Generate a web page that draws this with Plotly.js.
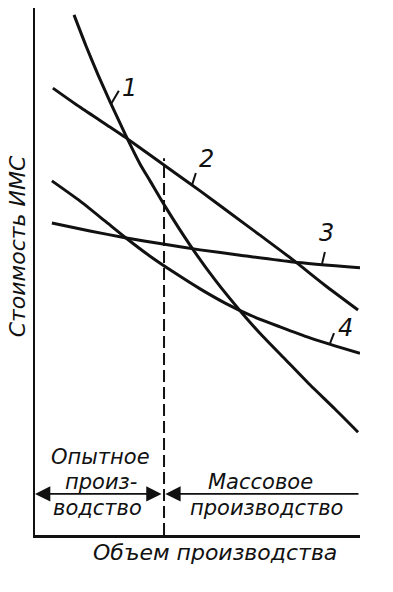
<!DOCTYPE html>
<html>
<head>
<meta charset="utf-8">
<script src="https://cdn.plot.ly/plotly-3.0.1.min.js"></script>
<style>
  html, body { margin: 0; padding: 0; background: #fff; }
  #chart { width: 393px; height: 592px; }
</style>
</head>
<body>
<div id="chart"></div>
<script>
// Schematic values in arbitrary units (x: production volume 0..100, y: IC cost 0..100)
const curve1X = [12.0, 15.7, 19.4, 23.1, 27.7, 32.3, 35.4, 40.0, 47.7, 55.4, 64.0, 69.2, 76.9, 84.6, 92.3, 99.4];
const curve1Y = [98.7, 92.8, 87.3, 82.2, 76.1, 70.4, 67.2, 62.4, 55.0, 48.4, 41.9, 38.3, 33.4, 28.5, 23.9, 19.5];

const curve2X = [5.5, 13.8, 23.1, 27.7, 35.4, 43.1, 50.8, 60.0, 69.2, 79.4, 89.2, 99.4];
const curve2Y = [84.8, 81.2, 77.4, 75.5, 72.1, 68.7, 65.3, 61.1, 56.9, 52.2, 47.4, 42.7];

const curve3X = [5.2, 16.9, 27.7, 39.4, 50.8, 63.1, 79.4, 100];
const curve3Y = [59.2, 57.7, 56.4, 55.2, 54.1, 53.1, 51.8, 50.7];

const curve4X = [5.2, 13.8, 21.5, 27.7, 35.4, 43.1, 50.8, 58.5, 66.2, 75.4, 84.6, 92.3, 100];
const curve4Y = [67.2, 63.4, 59.6, 56.5, 52.9, 49.7, 46.7, 44.0, 41.7, 39.5, 37.4, 35.9, 34.5];

// Boundary between pilot and mass production
const boundaryX = 39.7;
const boundaryTop = 71.5;
const arrowLevel = 7.8;

const curveLabels = ['1', '2', '3', '4'];
const yTitle = 'Стоимость ИМС';
const xTitle = 'Объем производства';
const pilotText = ['Опытное', 'произ-', 'водство'];
const massText = ['Массовое', 'производство'];

const FONT = 'DejaVu Sans, sans-serif';
const ink = '#111';

const lineStyle = {color: ink, width: 3, shape: 'spline', smoothing: 0.6};
const traces = [
  {x: curve1X, y: curve1Y},
  {x: curve2X, y: curve2Y},
  {x: curve3X, y: curve3Y},
  {x: curve4X, y: curve4Y}
].map(d => Object.assign(d, {type: 'scatter', mode: 'lines', line: lineStyle, hoverinfo: 'skip', showlegend: false, cliponaxis: false}));

// leader ticks and label positions
const leaders = [
  {x0: 23.4, y0: 81.8, x1: 25.8, y1: 84.3, lx: 29.2, ly: 84.8},
  {x0: 48.3, y0: 66.4, x1: 49.5, y1: 68.7, lx: 52.9, ly: 71.3},
  {x0: 88.3, y0: 51.4, x1: 89.2, y1: 53.7, lx: 89.8, ly: 57.3},
  {x0: 90.8, y0: 36.4, x1: 92.0, y1: 38.3, lx: 95.4, ly: 39.3}
];

const shapes = [
  {type: 'line', xref: 'x', yref: 'y', x0: boundaryX, x1: boundaryX, y0: 0, y1: boundaryTop,
   line: {color: ink, width: 2, dash: '12px,5px'}}
].concat(leaders.map(l => ({type: 'line', xref: 'x', yref: 'y', x0: l.x0, y0: l.y0, x1: l.x1, y1: l.y1,
   line: {color: ink, width: 2}})));

const tfont = (s) => ({family: FONT, size: s, color: ink, style: 'italic'});

const annotations = [];
curveLabels.forEach((t, i) => annotations.push({
  x: leaders[i].lx, y: leaders[i].ly, xref: 'x', yref: 'y', text: t, showarrow: false,
  font: tfont(24), xanchor: 'center', yanchor: 'middle'
}));
// pilot production text
const pilotY = [14.8, 10.1, 5.1];
const pilotX = [20.0, 20.3, 19.1];
pilotText.forEach((t, i) => annotations.push({
  x: pilotX[i], y: pilotY[i], xref: 'x', yref: 'y', text: t, showarrow: false,
  font: tfont(21), xanchor: 'center', yanchor: 'middle'
}));
const massY = [10.1, 5.1];
const massX = [69.5, 71.1];
massText.forEach((t, i) => annotations.push({
  x: massX[i], y: massY[i], xref: 'x', yref: 'y', text: t, showarrow: false,
  font: tfont(21), xanchor: 'center', yanchor: 'middle'
}));
// axis titles (paper coordinates so they may sit outside the plot area)
annotations.push({x: 0.554, y: -0.034, xref: 'paper', yref: 'paper', text: xTitle, showarrow: false,
  font: tfont(22), xanchor: 'center', yanchor: 'middle'});
annotations.push({x: -0.055, y: 0.548, xref: 'paper', yref: 'paper', text: yTitle, showarrow: false,
  font: tfont(22), textangle: -90, xanchor: 'center', yanchor: 'middle'});
// arrows
annotations.push({x: 0, y: arrowLevel, ax: boundaryX - 0.3, ay: arrowLevel, xref: 'x', yref: 'y', axref: 'x', ayref: 'y',
  text: '', showarrow: true, arrowhead: 2, startarrowhead: 2, arrowside: 'end+start', arrowsize: 1.7, startarrowsize: 1.7,
  arrowwidth: 1.8, arrowcolor: ink, standoff: 0, startstandoff: 0});
annotations.push({x: boundaryX + 0.4, y: arrowLevel, ax: 100, ay: arrowLevel, xref: 'x', yref: 'y', axref: 'x', ayref: 'y',
  text: '', showarrow: true, arrowhead: 2, arrowsize: 1.7, arrowwidth: 1.8, arrowcolor: ink, standoff: 0});

const layout = {
  width: 393, height: 592,
  margin: {l: 35, r: 33, t: 8, b: 57},
  paper_bgcolor: '#fff', plot_bgcolor: '#fff',
  showlegend: false,
  xaxis: {range: [0, 100], showline: true, linewidth: 2.5, linecolor: ink, showgrid: false, zeroline: false,
          ticks: '', showticklabels: false, fixedrange: true},
  yaxis: {range: [0, 100], showline: true, linewidth: 2.5, linecolor: ink, showgrid: false, zeroline: false,
          ticks: '', showticklabels: false, fixedrange: true},
  shapes: shapes,
  annotations: annotations
};

Plotly.newPlot('chart', traces, layout, {staticPlot: true, displayModeBar: false});
</script>
</body>
</html>
